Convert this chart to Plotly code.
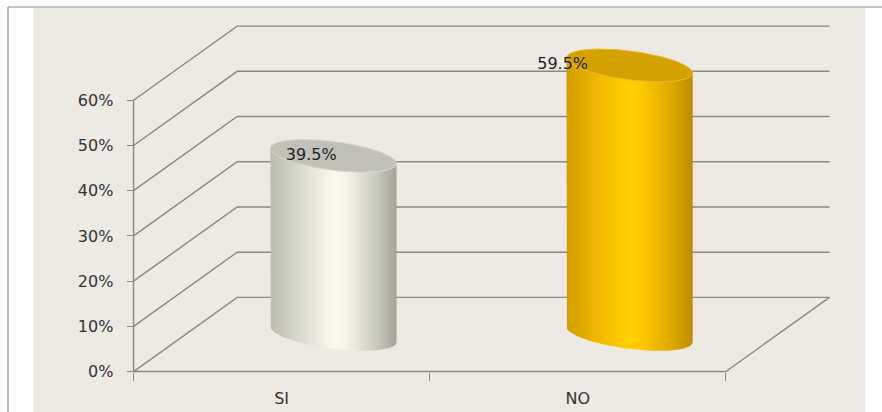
import numpy as np
import plotly.graph_objects as go

# ---- data -------------------------------------------------------------
categories = ["SI", "NO"]
values = [39.5, 59.5]                     # percent
y_ticks = [0, 10, 20, 30, 40, 50, 60]
y_tick_labels = ["0%", "10%", "20%", "30%", "40%", "50%", "60%"]

# ---- styling ------------------------------------------------------------
W, H = 882, 412
BG = "#ECEAE2"
GRID = "#8A8984"
TEXT = "#333333"
FONT = "DejaVu Sans"

DEPTH_X = 0.35       # oblique depth offset (x units)
DEPTH_Y = 16.4       # oblique depth offset (percent units)
RAD_X = 0.213        # cylinder radius
RAD_Y = 3.2          # ellipse half-height
TILT = 1.7           # perspective tilt of the ellipses
LABEL_DX = [-0.075, -0.226]

body_scales = [
    [[0, "#BDBCB0"], [0.25, "#DCDBD0"], [0.5, "#FBF9EE"], [0.6, "#F6F4E8"],
     [0.85, "#C9C8BC"], [1, "#A3A297"]],
    [[0, "#D29C00"], [0.25, "#F0BA00"], [0.5, "#FFD000"], [0.6, "#FCC900"],
     [0.85, "#DCA600"], [1, "#BE8C00"]],
]
top_colors = ["#C2C1B7", "#D4A100"]
rim_colors = ["#D8D7CE", "#E9B82A"]

fig = go.Figure()

# ---- walls and floor ----------------------------------------------------
n_cat = len(categories)
gx, gy = [], []
for v in y_ticks:
    # side wall diagonal + back wall line
    gx += [0, DEPTH_X, n_cat + DEPTH_X, None]
    gy += [v, v + DEPTH_Y, v + DEPTH_Y, None]
# floor front edge and right edge
gx += [0, n_cat, n_cat + DEPTH_X, None]
gy += [0, 0, DEPTH_Y, None]
# front value axis
gx += [0, 0, None]
gy += [0, y_ticks[-1], None]
fig.add_trace(go.Scatter(x=gx, y=gy, mode="lines",
                         line=dict(color=GRID, width=1.4),
                         hoverinfo="skip", showlegend=False))

# ---- cylinders ----------------------------------------------------------
def ellipse(cx, cy, t):
    return cx + RAD_X * np.cos(t), cy + RAD_Y * np.sin(t) - TILT * np.cos(t)

for i, (cat, val) in enumerate(zip(categories, values)):
    cx = i + 0.5 + DEPTH_X / 2
    base = DEPTH_Y / 2
    top = val + DEPTH_Y / 2

    t_low = np.linspace(np.pi, 2 * np.pi, 80)
    bx, by = ellipse(cx, base, t_low)
    tx, ty = ellipse(cx, top, t_low[::-1])
    xs = np.concatenate([[cx - RAD_X], bx, tx])
    ys = np.concatenate([[top + TILT], by, ty])
    fig.add_trace(go.Scatter(
        x=xs, y=ys, mode="lines", fill="toself",
        line=dict(width=0),
        fillgradient=dict(type="horizontal", colorscale=body_scales[i]),
        hoverinfo="skip", showlegend=False))

    t_all = np.linspace(0, 2 * np.pi, 120)
    ex, ey = ellipse(cx, top, t_all)
    fig.add_trace(go.Scatter(
        x=ex, y=ey, mode="lines", fill="toself",
        line=dict(width=1.0, color=rim_colors[i]),
        fillcolor=top_colors[i],
        hoverinfo="skip", showlegend=False))

    fig.add_trace(go.Scatter(
        x=[cx + LABEL_DX[i]], y=[top], mode="text",
        text=[f"{val:.1f}%"], textposition="middle center",
        textfont=dict(family=FONT, size=16, color="#222222"),
        hoverinfo="skip", showlegend=False))

# ---- layout -------------------------------------------------------------
ML, MR, MT, MB = 130, 17, 8, 35
x_range = [-0.012, 2.47]
y_range = [-1.2, 80.4]
plot_w = W - ML - MR
plot_h = H - MT - MB
x0_paper = (0 - x_range[0]) / (x_range[1] - x_range[0])
y0_paper = (0 - y_range[0]) / (y_range[1] - y_range[0])

fig.update_layout(
    width=W, height=H,
    margin=dict(l=ML, r=MR, t=MT, b=MB, autoexpand=False),
    paper_bgcolor="white",
    plot_bgcolor=BG,
    showlegend=False,
    font=dict(family=FONT, size=16, color=TEXT),
    xaxis=dict(
        range=x_range, showgrid=False, zeroline=False, showline=False,
        automargin=False,
        anchor="free", position=y0_paper,
        tickvals=[i + 0.5 for i in range(n_cat)], ticktext=categories,
        ticks="outside", ticklen=12, tickcolor="rgba(0,0,0,0)",
        tickfont=dict(family=FONT, size=16, color=TEXT),
        minor=dict(tickvals=list(range(n_cat + 1)), ticks="outside",
                   ticklen=8, tickcolor=GRID, tickwidth=1.4, showgrid=False),
    ),
    yaxis=dict(
        range=y_range, showgrid=False, zeroline=False, showline=False,
        automargin=False,
        anchor="free", position=x0_paper,
        tickvals=y_ticks, ticktext=y_tick_labels,
        ticks="outside", ticklen=7, tickcolor=GRID, tickwidth=1.4,
        ticklabelstandoff=10,
        tickfont=dict(family=FONT, size=16, color=TEXT),
    ),
    shapes=[
        # chart panel
        dict(type="rect", xref="paper", yref="paper", layer="below",
             x0=(33 - ML) / plot_w, x1=1, y0=-MB / plot_h, y1=1,
             fillcolor=BG, line=dict(width=0)),
        # outer frame (top and left)
        dict(type="line", xref="paper", yref="paper",
             x0=(8 - ML) / plot_w, x1=(W - ML) / plot_w,
             y0=1 + 1 / plot_h, y1=1 + 1 / plot_h,
             line=dict(color="#8A8A8A", width=1.2)),
        dict(type="line", xref="paper", yref="paper",
             x0=(8 - ML) / plot_w, x1=(8 - ML) / plot_w,
             y0=-MB / plot_h, y1=1 + 1 / plot_h,
             line=dict(color="#8A8A8A", width=1.2)),
    ],
)

fig.write_html("out.html")
